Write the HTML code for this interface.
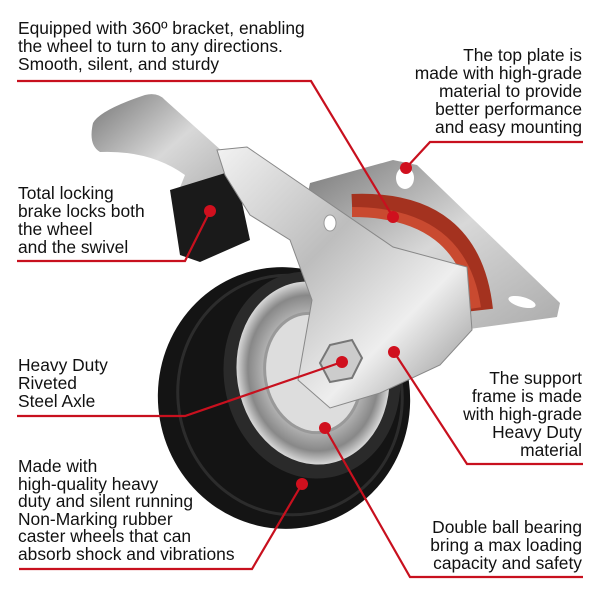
<!DOCTYPE html>
<html><head><meta charset="utf-8"><style>
html,body{margin:0;padding:0;background:#fff}
svg{display:block}
text{font-family:"Liberation Sans",Arial,sans-serif;font-size:17.4px;fill:#111}
</style></head><body>
<svg width="600" height="600" viewBox="0 0 600 600" xmlns="http://www.w3.org/2000/svg">
<defs>
<linearGradient id="silver" x1="0" y1="0" x2="1" y2="1">
<stop offset="0" stop-color="#f2f2f2"/><stop offset="0.4" stop-color="#bdbdbd"/><stop offset="0.7" stop-color="#eeeeee"/><stop offset="1" stop-color="#8a8a8a"/></linearGradient>
<linearGradient id="plate" x1="0" y1="0" x2="1" y2="1">
<stop offset="0" stop-color="#777"/><stop offset="0.5" stop-color="#d8d8d8"/><stop offset="1" stop-color="#aaa"/></linearGradient>
<radialGradient id="hub" cx="0.5" cy="0.5" r="0.5">
<stop offset="0" stop-color="#f4f4f4"/><stop offset="0.6" stop-color="#bbb"/><stop offset="0.85" stop-color="#888"/><stop offset="1" stop-color="#d8d8d8"/></radialGradient>
</defs>
<path d="M93 123 Q100 110 145 95 Q158 92 165 100 L232 160 L220 200 L190 215 L175 200 L185 175 Q150 150 100 152 Q88 145 93 123Z" fill="url(#plate)"/>
<path d="M170 190 L235 170 L250 240 L200 262 L180 255Z" fill="#1a1a1a"/>
<path d="M310 183 L393 160 L417 165 L560 303 L557 317 L440 333 L300 230Z" fill="url(#plate)"/>
<ellipse cx="405" cy="178" rx="9" ry="11" fill="#fff"/>
<ellipse cx="522" cy="302" rx="14" ry="5" transform="rotate(15 522 302)" fill="#fff"/>
<path d="M352 205 Q470 200 482 310" fill="none" stroke="#a4321f" stroke-width="22"/>
<path d="M352 212 Q462 212 476 308" fill="none" stroke="#c94a30" stroke-width="10"/>
<ellipse cx="284" cy="398" rx="126" ry="131" transform="rotate(-10 284 398)" fill="#141414"/>
<ellipse cx="290" cy="395" rx="112" ry="120" transform="rotate(-10 290 395)" fill="none" stroke="#2c2c2c" stroke-width="3"/>
<ellipse cx="312" cy="375" rx="88" ry="104" transform="rotate(-10 312 375)" fill="#2a2a2a"/>
<ellipse cx="313" cy="373" rx="76" ry="92" transform="rotate(-10 313 373)" fill="url(#hub)"/>
<ellipse cx="313" cy="373" rx="48" ry="60" transform="rotate(-10 313 373)" fill="#ddd" stroke="#999" stroke-width="3"/>
<path d="M217 150 L247 147 L393 247 L467 267 L472 330 L440 365 L380 393 L330 408 L298 380 L312 300 L290 240 L250 215 L225 175Z" fill="url(#silver)" stroke="#888" stroke-width="1"/>
<ellipse cx="330" cy="223" rx="6" ry="8" fill="#fff" stroke="#999"/>
<polygon points="330,345 352,340 362,358 352,378 330,382 320,363" fill="#ccc" stroke="#777" stroke-width="2"/>
<g stroke="#c8101e" stroke-width="2.2" fill="none">
<polyline points="17,81 311,81 393,217"/>
<polyline points="583,142 430,142 406,168"/>
<polyline points="17,261 185,261 210,211"/>
<polyline points="17,416 185,416 342,362"/>
<polyline points="394,352 467,464 583,464"/>
<polyline points="19,569 252,569 302,484"/>
<polyline points="325,428 410,577 583,577"/>
</g>
<g fill="#d0101e">
<circle cx="393" cy="217" r="6"/><circle cx="406" cy="168" r="6"/><circle cx="210" cy="211" r="6"/>
<circle cx="342" cy="362" r="6"/><circle cx="394" cy="352" r="6"/><circle cx="325" cy="428" r="6"/><circle cx="302" cy="484" r="6"/>
</g>
<text x="18" y="34">Equipped with 360º bracket, enabling</text>
<text x="18" y="52">the wheel to turn to any directions.</text>
<text x="18" y="70">Smooth, silent, and sturdy</text>
<g text-anchor="end">
<text x="582" y="61">The top plate is</text>
<text x="582" y="79">made with high-grade</text>
<text x="582" y="97">material to provide</text>
<text x="582" y="115">better performance</text>
<text x="582" y="133">and easy mounting</text>
<text x="582" y="384">The support</text>
<text x="582" y="402">frame is made</text>
<text x="582" y="420">with high-grade</text>
<text x="582" y="438">Heavy Duty</text>
<text x="582" y="456">material</text>
<text x="582" y="533">Double ball bearing</text>
<text x="582" y="551">bring a max loading</text>
<text x="582" y="569">capacity and safety</text>
</g>
<text x="18" y="199">Total locking</text>
<text x="18" y="217">brake locks both</text>
<text x="18" y="235">the wheel</text>
<text x="18" y="253">and the swivel</text>
<text x="18" y="371">Heavy Duty</text>
<text x="18" y="389">Riveted</text>
<text x="18" y="407">Steel Axle</text>
<text x="18" y="472">Made with</text>
<text x="18" y="490">high-quality heavy</text>
<text x="18" y="507">duty and silent running</text>
<text x="18" y="525">Non-Marking rubber</text>
<text x="18" y="542">caster wheels that can</text>
<text x="18" y="560">absorb shock and vibrations</text>
</svg>
</body></html>
